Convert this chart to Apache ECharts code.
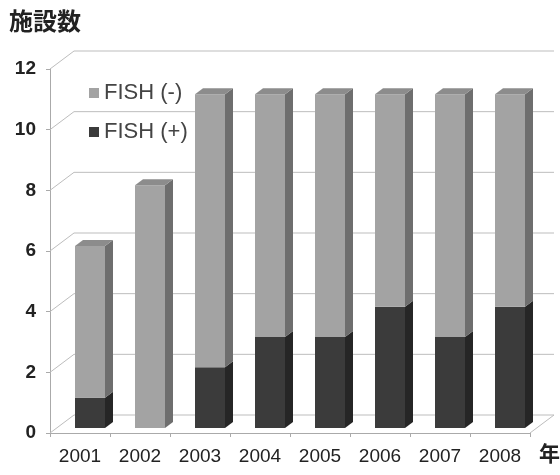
<!DOCTYPE html>
<html>
<head>
<meta charset="utf-8">
<script src="https://cdn.jsdelivr.net/npm/echarts@6/dist/echarts.min.js"></script>
<style>html,body{margin:0;padding:0;background:#fff}#c{width:560px;height:475px}</style>
</head>
<body>
<div id="c"></div>
<script>
// ---- data ----
var categories = ['2001','2002','2003','2004','2005','2006','2007','2008'];
var fishPos = [1, 0, 2, 3, 3, 4, 3, 4];     // FISH (+)
var fishNeg = [5, 8, 9, 8, 8, 7, 8, 7];     // FISH (-)
var yTicks = [0, 2, 4, 6, 8, 10, 12];

// ---- 3D look parameters ----
var WALL_DX = 24, WALL_DY = 18;   // depth of the back wall
var BAR_RATIO = 0.5;
var BAR_OFF_X = 10, BAR_OFF_Y = -5;
var BAR_DX = 8, BAR_DY = 6;

var chart = echarts.init(document.getElementById('c'), null, {renderer: 'canvas'});

function barRender(colors, drawTop) {
  return function (params, api) {
    var i = api.value(0), b = api.value(1), t = api.value(2);
    if (!(t > b)) return null;
    var p0 = api.coord([i, b]), p1 = api.coord([i, t]);
    var w = api.size([1, 0])[0] * BAR_RATIO;
    var x0 = p0[0] + BAR_OFF_X - w / 2, x1 = x0 + w;
    var yb = p0[1] + BAR_OFF_Y, yt = p1[1] + BAR_OFF_Y;
    var children = [
      {type: 'polygon', shape: {points: [[x1, yb], [x1 + BAR_DX, yb - BAR_DY], [x1 + BAR_DX, yt - BAR_DY], [x1, yt]]},
       style: {fill: colors.side}},
      {type: 'polygon', shape: {points: [[x0, yb], [x1, yb], [x1, yt], [x0, yt]]},
       style: {fill: colors.front}}
    ];
    if (drawTop) {
      children.push({type: 'polygon', shape: {points: [[x0, yt], [x1, yt], [x1 + BAR_DX, yt - BAR_DY], [x0 + BAR_DX, yt - BAR_DY]]},
        style: {fill: colors.top}});
    }
    return {type: 'group', children: children};
  };
}

function wallRender(params, api) {
  var cs = params.coordSys;
  var gx = cs.x, gw = cs.width;
  var lineStyle = {stroke: '#bdbdbd', lineWidth: 1};
  var children = [];
  yTicks.forEach(function (v) {
    var y = api.coord([0, v])[1];
    children.push({type: 'line', shape: {x1: gx, y1: y, x2: gx + WALL_DX, y2: y - WALL_DY}, style: lineStyle});
    children.push({type: 'line', shape: {x1: gx + WALL_DX, y1: y - WALL_DY, x2: gx + gw + WALL_DX, y2: y - WALL_DY}, style: lineStyle});
  });
  var y0 = api.coord([0, 0])[1];
  children.push({type: 'line', shape: {x1: gx + gw, y1: y0, x2: gx + gw + WALL_DX, y2: y0 - WALL_DY}, style: lineStyle});
  return {type: 'group', children: children};
}

var negData = categories.map(function (c, i) { return [i, fishPos[i], fishPos[i] + fishNeg[i]]; });
var posData = categories.map(function (c, i) { return [i, 0, fishPos[i]]; });

var option = {
  backgroundColor: '#ffffff',
  animation: false,
  textStyle: {fontFamily: 'Liberation Sans, Arial, sans-serif'},
  grid: {left: 50, right: 30, top: 69, bottom: 42},
  legend: {
    data: ['FISH (-)', 'FISH (+)'],
    orient: 'vertical', left: 84, top: 77,
    itemWidth: 10, itemHeight: 10, itemGap: 17,
    icon: 'rect',
    textStyle: {fontSize: 22, color: '#444', fontFamily: 'Liberation Sans, Arial, sans-serif'}
  },
  xAxis: {
    type: 'category', data: categories,
    axisLine: {show: true, lineStyle: {color: '#aaa'}},
    axisTick: {show: true, length: 4, lineStyle: {color: '#aaa'}},
    axisLabel: {fontSize: 19, color: '#222', margin: 14},
    splitLine: {show: false}
  },
  yAxis: {
    type: 'value', min: 0, max: 12, interval: 2,
    axisLine: {show: true, lineStyle: {color: '#aaa'}},
    axisTick: {show: true, length: 4, lineStyle: {color: '#aaa'}},
    axisLabel: {fontSize: 19, fontWeight: 'bold', color: '#222', margin: 14},
    splitLine: {show: false}
  },
  graphic: [
    {type: 'text', left: 9, top: 9, style: {text: '施設数', fontSize: 24, fontWeight: 'bold', fill: '#222', fontFamily: 'Noto Sans CJK JP'}},
    {type: 'text', left: 539, top: 443, style: {text: '年', fontSize: 21, fontWeight: 'bold', fill: '#222', fontFamily: 'Noto Sans CJK JP'}}
  ],
  series: [
    {type: 'custom', name: 'walls', renderItem: wallRender, data: [[0]], silent: true, z: 1, encode: {x: 0}},
    {type: 'custom', name: 'FISH (+)', renderItem: barRender({front: '#3b3b3b', side: '#262626', top: '#555555'}, false),
     data: posData, encode: {x: 0, y: [1, 2]}, itemStyle: {color: '#3b3b3b'}, z: 3},
    {type: 'custom', name: 'FISH (-)', renderItem: barRender({front: '#a3a3a3', side: '#6e6e6e', top: '#8c8c8c'}, true),
     data: negData, encode: {x: 0, y: [1, 2]}, itemStyle: {color: '#a3a3a3'}, z: 3}
  ]
};
chart.setOption(option);
</script>
</body>
</html>
